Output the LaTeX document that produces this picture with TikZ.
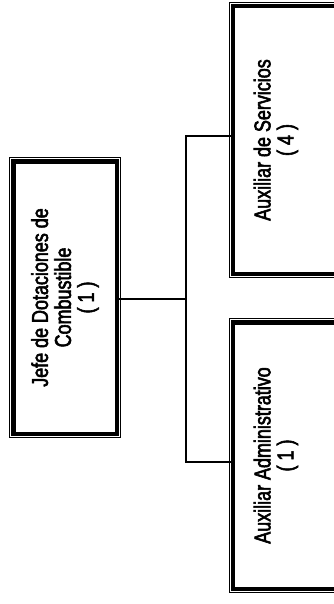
\documentclass[tikz,border=0pt]{standalone}
\usepackage{fontspec}
\setmainfont{Liberation Sans}
\newfontfamily\cargofont[FakeStretch=0.78,FakeBold=2.5]{Liberation Sans}
\usepackage{tikz}
\usetikzlibrary{shapes,arrows,positioning}
\tikzstyle{cargo} = [draw, fill=white, line width=4.5pt, rectangle, rotate=90, align=center, inner sep=0pt, font=\cargofont\fontsize{23}{23}\selectfont, preaction={draw, line width=8.5pt}, preaction={draw=white, line width=6.5pt}]
\tikzstyle{enlace} = [draw, line width=1.2pt]

\begin{document}
\begin{tikzpicture}[x=1pt,y=-1pt]
\useasboundingbox (0,0) rectangle (334,604);
\node [cargo, minimum width=272.5pt, minimum height=103.5pt] (jefe) at (65,297.5) {Jefe de Dotaciones de\\Combustible\\( 1 )};
\node [cargo, minimum width=267.5pt, minimum height=104.75pt, text depth=24pt] (serv) at (285.6,140) {Auxiliar de Servicios\\( 4 )};
\node [cargo, minimum width=266.5pt, minimum height=104.75pt, text depth=24pt] (adm) at (285.6,455.5) {Auxiliar Administrativo\\( 1 )};
\coordinate (bus) at (186,0);
\draw [enlace] ([yshift=4pt]serv.north) -- ([yshift=4pt]serv.north -| bus) -- ([yshift=-6.5pt]adm.north -| bus) -- ([yshift=-6.5pt]adm.north);
\draw [enlace] ([yshift=-1.5pt]jefe.south) -- ([yshift=-1.5pt]jefe.south -| bus);
\end{tikzpicture}
\end{document}
